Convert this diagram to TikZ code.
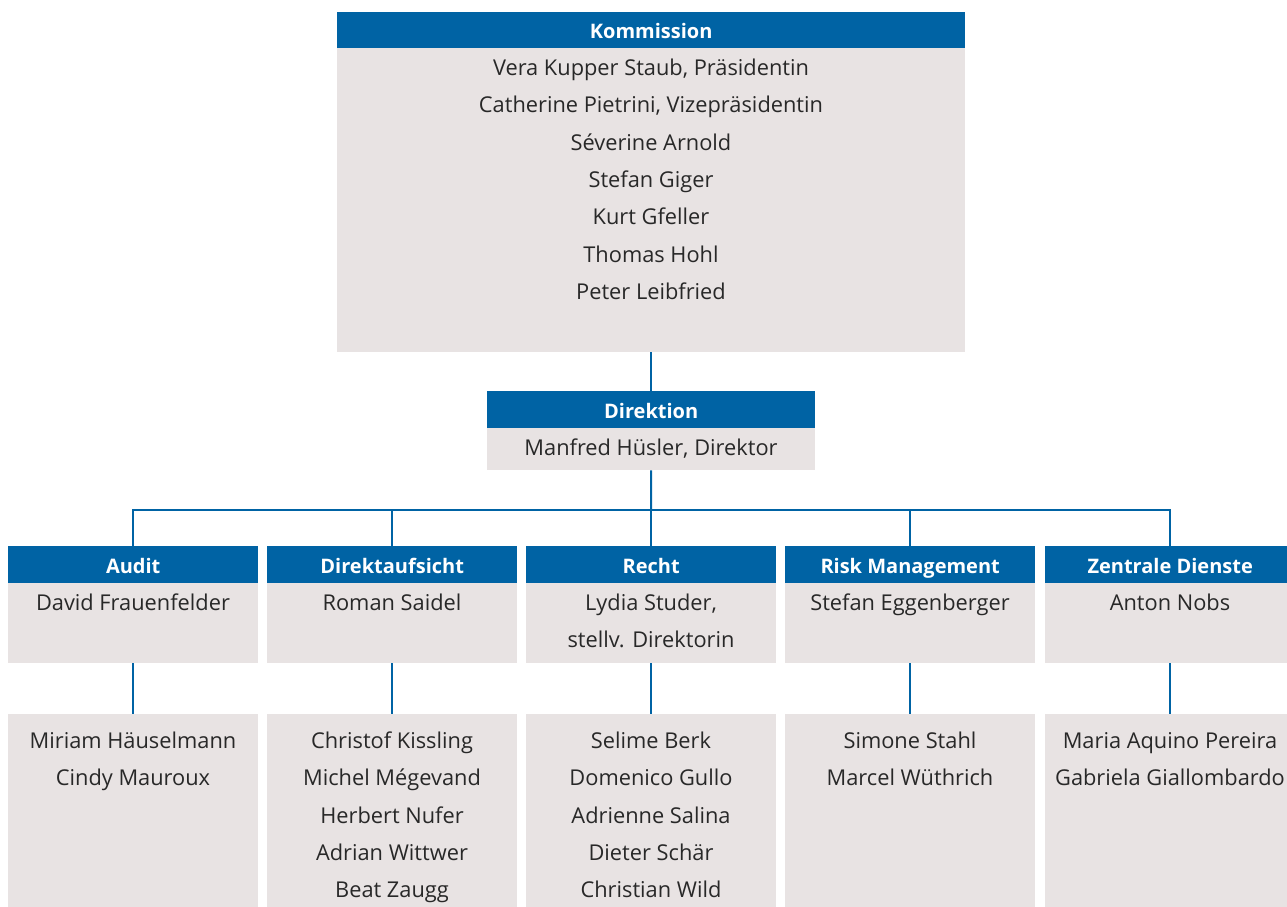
\documentclass[tikz,border=0pt]{standalone}
\usepackage{fontspec}
\setmainfont{Open Sans}
\definecolor{hdblue}{RGB}{0,99,164}
\definecolor{boxgray}{RGB}{232,227,227}
\definecolor{txtgray}{RGB}{40,40,40}
\newcommand\toprl{\rule{0pt}{24pt}}
\newcommand\hdfont{\fontsize{20}{22}\selectfont\bfseries}
\newcommand\nmfont{\fontsize{21.8}{37.4}\selectfont}
\begin{document}
\begin{tikzpicture}[x=1pt,y=-1pt,
  hd/.style={fill=hdblue, text=white, inner sep=0pt, text height=17pt, text depth=0pt,
    font=\hdfont, minimum height=37pt, minimum width=250pt, anchor=north west},
  bd/.style={fill=boxgray, inner sep=0pt, minimum width=250pt, anchor=north west},
  nm/.style={text=txtgray, font=\nmfont, align=center, inner sep=0pt, anchor=north},
  ln/.style={draw=hdblue, line width=2pt}]
\useasboundingbox (0,0) rectangle (1287,907);
\clip (0,0) rectangle (1287,907);
% Kommission
\node[hd, minimum width=628pt, minimum height=36pt] (kh) at (337,12) {Kommission};
\node[bd, minimum width=628pt, minimum height=304pt] (kb) at (337,48) {};
\node[nm] (kt) at (651,51) {\toprl Vera Kupper Staub, Präsidentin\\Catherine Pietrini, Vizepräsidentin\\Séverine Arnold\\Stefan Giger\\Kurt Gfeller\\Thomas Hohl\\Peter Leibfried};
% Direktion
\node[hd, minimum width=328pt] (dh) at (487,391) {Direktion};
\node[bd, minimum width=328pt, minimum height=42pt] (db) at (487,428) {};
\node[nm] (dt) at (651,431) {\toprl Manfred Hüsler, Direktor};
% second level
\node[hd] (ah) at (8,546) {Audit};
\node[bd, minimum height=80pt] (ab) at (8,583) {};
\node[nm] (at) at (133,586) {\toprl David Frauenfelder};
\node[hd] (dah) at (267,546) {Direktaufsicht};
\node[bd, minimum height=80pt] (dab) at (267,583) {};
\node[nm] (dat) at (392,586) {\toprl Roman Saidel};
\node[hd] (rh) at (526,546) {Recht};
\node[bd, minimum height=80pt] (rb) at (526,583) {};
\node[nm] (rt) at (651,586) {\toprl Lydia Studer,\\stellv. Direktorin};
\node[hd] (rmh) at (785,546) {Risk Management};
\node[bd, minimum height=80pt] (rmb) at (785,583) {};
\node[nm] (rmt) at (910,586) {\toprl Stefan Eggenberger};
\node[hd] (zh) at (1045,546) {Zentrale Dienste};
\node[bd, minimum height=80pt] (zb) at (1045,583) {};
\node[nm] (zt) at (1170,586) {\toprl Anton Nobs};
% staff boxes
\node[bd, minimum height=200pt] (al) at (8,714) {};
\node[nm] (alt) at (133,724) {\toprl Miriam Häuselmann\\Cindy Mauroux};
\node[bd, minimum height=200pt] (dal) at (267,714) {};
\node[nm] (dalt) at (392,724) {\toprl Christof Kissling\\Michel Mégevand\\Herbert Nufer\\Adrian Wittwer\\Beat Zaugg};
\node[bd, minimum height=200pt] (rl) at (526,714) {};
\node[nm] (rlt) at (651,724) {\toprl Selime Berk\\Domenico Gullo\\Adrienne Salina\\Dieter Schär\\Christian Wild};
\node[bd, minimum height=200pt] (rml) at (785,714) {};
\node[nm] (rmlt) at (910,724) {\toprl Simone Stahl\\Marcel Wüthrich};
\node[bd, minimum height=200pt] (zl) at (1045,714) {};
\node[nm] (zlt) at (1170,724) {\toprl Maria Aquino Pereira\\Gabriela Giallombardo};
% connectors
\coordinate (bus) at (651,510);
\draw[ln] (kb.south) -- (dh.north);
\draw[ln] (db.south) -- (bus);
\foreach \n in {ah,dah,rh,rmh,zh} \draw[ln] (bus) -| (\n.north);
\draw[ln] (ab.south) -- (al.north);
\draw[ln] (dab.south) -- (dal.north);
\draw[ln] (rb.south) -- (rl.north);
\draw[ln] (rmb.south) -- (rml.north);
\draw[ln] (zb.south) -- (zl.north);
\end{tikzpicture}
\end{document}
